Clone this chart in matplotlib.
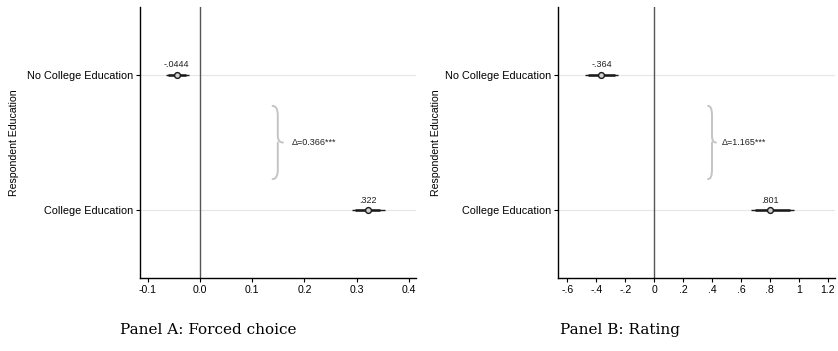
import numpy as np
import matplotlib
matplotlib.use("Agg")
import matplotlib.pyplot as plt
from matplotlib.path import Path
from matplotlib.patches import PathPatch

# categories (top to bottom)
categories = ["No College Education", "College Education"]

# Panel A: forced choice
a_est = [-0.0444, 0.322]
a_lo95 = [-0.065, 0.291]
a_hi95 = [-0.022, 0.355]
a_lo90 = [-0.062, 0.296]
a_hi90 = [-0.027, 0.345]
a_labels = ["-.0444", ".322"]
a_delta = "Δ=0.366***"
a_brace_x = 0.149
a_ticks = [-0.1, 0.0, 0.1, 0.2, 0.3, 0.4]
a_ticklabels = ["-0.1", "0.0", "0.1", "0.2", "0.3", "0.4"]

# Panel B: rating
b_est = [-0.364, 0.801]
b_lo95 = [-0.476, 0.668]
b_hi95 = [-0.248, 0.966]
b_lo90 = [-0.458, 0.694]
b_hi90 = [-0.268, 0.940]
b_labels = ["-.364", ".801"]
b_delta = "Δ=1.165***"
b_brace_x = 0.40
b_ticks = [-0.6, -0.4, -0.2, 0, 0.2, 0.4, 0.6, 0.8, 1.0, 1.2]
b_ticklabels = ["-.6", "-.4", "-.2", "0", ".2", ".4", ".6", ".8", "1", "1.2"]

plt.rcParams['font.family'] = ['Liberation Sans', 'DejaVu Sans']

fig = plt.figure(figsize=(8.38, 3.51), dpi=100)


def brace(ax, x, y0, y1, width):
    # curly brace opening to the right, tip at the middle
    ym = (y0 + y1) / 2
    w = width
    verts = [
        (x - w, y0), (x, y0), (x, y0 + 0.07),
        (x, ym - 0.05),
        (x, ym), (x + w, ym),
        (x, ym), (x, ym + 0.05),
        (x, y1 - 0.07),
        (x, y1), (x - w, y1),
    ]
    codes = [Path.MOVETO, Path.CURVE3, Path.CURVE3,
             Path.LINETO,
             Path.CURVE3, Path.CURVE3,
             Path.MOVETO, Path.LINETO,
             Path.LINETO,
             Path.CURVE3, Path.CURVE3]
    ax.add_patch(PathPatch(Path(verts, codes), fill=False,
                           edgecolor='#c4c4c4', lw=1.4, capstyle='round'))


def panel(rect, est, lo95, hi95, lo90, hi90, labels, delta, bx, ticks,
          ticklabels, xlim, caption, cap_x, bw, ylab_x):
    ax = fig.add_axes(rect)
    y = np.arange(1, len(categories) + 1)
    for yi in y:
        ax.axhline(yi, color='#e6e6e6', lw=0.8, zorder=0)
    ax.axvline(0, color='#555555', lw=1.0, zorder=1)
    ax.hlines(y, lo95, hi95, color='#1a1a1a', lw=1.0, zorder=2)
    ax.hlines(y, lo90, hi90, color='#1a1a1a', lw=1.8, zorder=2)
    ax.plot(est, y, 'o', ms=4.2, mfc='#d0d0d0', mec='#1a1a1a', mew=1.0,
            zorder=3)
    for xi, yi, lab in zip(est, y, labels):
        ax.text(xi, yi - 0.04, lab, ha='center', va='bottom', fontsize=6.5,
                color='#222222')
    brace(ax, bx, 1.23, 1.77, bw)
    ax.text(bx + bw * 2.6, 1.5, delta, ha='left', va='center', fontsize=6.5,
            color='#222222')
    ax.set_ylim(2.5, 0.5)
    ax.set_xlim(*xlim)
    ax.set_yticks(y)
    ax.set_yticklabels(categories, fontsize=7.8)
    ax.set_xticks(ticks)
    ax.set_xticklabels(ticklabels, fontsize=7.6)
    ax.set_ylabel("Respondent Education", fontsize=7.6)
    ax.yaxis.set_label_coords(ylab_x, 0.5)
    ax.tick_params(axis='both', length=3, width=0.8, pad=2)
    ax.spines['top'].set_visible(False)
    ax.spines['right'].set_visible(False)
    ax.spines['left'].set_linewidth(1.0)
    ax.spines['bottom'].set_linewidth(1.0)
    fig.text(cap_x, 0.06, caption, ha='center', va='center',
             fontsize=11, family=['DejaVu Serif'])
    return ax


panel([0.167, 0.208, 0.329, 0.772], a_est, a_lo95, a_hi95, a_lo90, a_hi90,
      a_labels, a_delta, a_brace_x, a_ticks, a_ticklabels, (-0.115, 0.413),
      "Panel A: Forced choice", 0.248, 0.010, -0.44)
panel([0.666, 0.208, 0.330, 0.772], b_est, b_lo95, b_hi95, b_lo90, b_hi90,
      b_labels, b_delta, b_brace_x, b_ticks, b_ticklabels, (-0.664, 1.248),
      "Panel B: Rating", 0.74, 0.027, -0.425)

fig.savefig("out.png", dpi=100)
